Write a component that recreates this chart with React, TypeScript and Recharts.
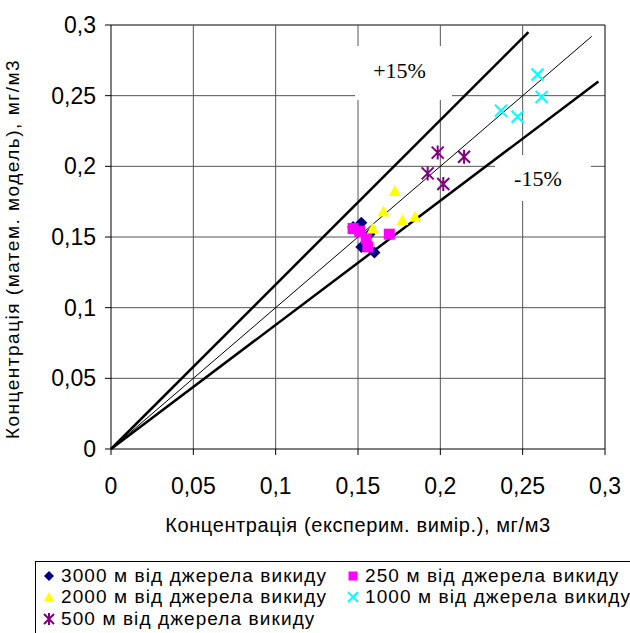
import React from "react";
import {
  ComposedChart,
  ReferenceArea,
  ReferenceLine,
  Scatter,
  XAxis,
  YAxis,
} from "recharts";

const TICKS = [0, 0.05, 0.1, 0.15, 0.2, 0.25, 0.3];

// reference lines: y = x, +15 %, -15 %
const LINE_EQUAL = [
  { x: 0, y: 0 },
  { x: 0.292, y: 0.292 },
];
const LINE_PLUS = [
  { x: 0, y: 0 },
  { x: 0.2535, y: 0.295 },
];
const LINE_MINUS = [
  { x: 0, y: 0 },
  { x: 0.296, y: 0.26 },
];

const S3000 = [
  { x: 0.152, y: 0.16 },
  { x: 0.147, y: 0.157 },
  { x: 0.157, y: 0.152 },
  { x: 0.152, y: 0.143 },
  { x: 0.16, y: 0.139 },
];
const S250 = [
  { x: 0.147, y: 0.156 },
  { x: 0.151, y: 0.154 },
  { x: 0.155, y: 0.149 },
  { x: 0.156, y: 0.143 },
  { x: 0.169, y: 0.152 },
];
const S2000 = [
  { x: 0.1724, y: 0.1826 },
  { x: 0.1654, y: 0.168 },
  { x: 0.159, y: 0.156 },
  { x: 0.177, y: 0.162 },
  { x: 0.1846, y: 0.1644 },
];
const S1000 = [
  { x: 0.259, y: 0.265 },
  { x: 0.2615, y: 0.249 },
  { x: 0.2368, y: 0.2393 },
  { x: 0.2469, y: 0.2351 },
];
const S500 = [
  { x: 0.1984, y: 0.2097 },
  { x: 0.2144, y: 0.2068 },
  { x: 0.1923, y: 0.195 },
  { x: 0.2018, y: 0.1875 },
];

const LEGEND = [
  { label: "3000 м від джерела викиду", kind: "diamond" },
  { label: "250 м від джерела викиду", kind: "square" },
  { label: "2000 м від джерела викиду", kind: "triangle" },
  { label: "1000 м від джерела викиду", kind: "x" },
  { label: "500 м від джерела викиду", kind: "star" },
];

// text boxes (white background hides the grid behind them)
const BOXES = [
  { text: "+15%", x1: 0.1482, x2: 0.2071, y1: 0.2469, y2: 0.2851, dx: -4, dy: -3 },
  { text: "-15%", x1: 0.2332, x2: 0.2914, y1: 0.1755, y2: 0.208, dx: -5, dy: 0 },
];

const COLORS: Record<string, string> = {
  diamond: "#000080",
  square: "#FF00FF",
  triangle: "#FFFF00",
  x: "#00FFFF",
  star: "#800080",
};

function marker(kind: string, cx: number, cy: number, r = 6) {
  const c = COLORS[kind];
  if (kind === "diamond")
    return <path d={`M${cx},${cy - r}L${cx + r},${cy}L${cx},${cy + r}L${cx - r},${cy}Z`} fill={c} />;
  if (kind === "square")
    return <rect x={cx - r + 0.5} y={cy - r + 0.5} width={2 * r - 1} height={2 * r - 1} fill={c} />;
  if (kind === "triangle")
    return <path d={`M${cx},${cy - r}L${cx + r},${cy + r - 1}L${cx - r},${cy + r - 1}Z`} fill={c} />;
  if (kind === "x")
    return (
      <path
        d={`M${cx - r},${cy - r}L${cx + r},${cy + r}M${cx - r},${cy + r}L${cx + r},${cy - r}`}
        stroke={c}
        strokeWidth={2}
      />
    );
  return (
    <path
      d={`M${cx - r},${cy - r}L${cx + r},${cy + r}M${cx - r},${cy + r}L${cx + r},${cy - r}M${cx},${cy - r - 1}L${cx},${cy + r + 1}`}
      stroke={c}
      strokeWidth={2}
    />
  );
}

// split a grid line into pieces that skip the text boxes
function pieces(vertical: boolean, t: number): [number, number][] {
  let segs: [number, number][] = [[0, 0.3]];
  BOXES.forEach((b) => {
    const [lo, hi, a, z] = vertical ? [b.x1, b.x2, b.y1, b.y2] : [b.y1, b.y2, b.x1, b.x2];
    if (t <= lo || t >= hi) return;
    const next: [number, number][] = [];
    segs.forEach(([s, e]) => {
      if (a > s) next.push([s, Math.min(a, e)]);
      if (z < e) next.push([Math.max(z, s), e]);
    });
    segs = next;
  });
  return segs;
}

const shapeOf = (kind: string) => (p: any) => <g>{marker(kind, p.cx, p.cy)}</g>;
const noDot = () => <g />;
const fmt = (v: number) => String(v).replace(".", ",");

const FONT = "'Liberation Sans', Arial, sans-serif";
const SERIF = "'Liberation Serif', 'Times New Roman', serif";

export default function App() {
  return (
    <div style={{ position: "absolute", left: 0, top: 0, width: 630, height: 633, overflow: "hidden", background: "#fff" }}>
      <ComposedChart width={630} height={560} margin={{ top: 25, right: 25, left: 0, bottom: 28 }}>
        <XAxis
          type="number"
          dataKey="x"
          domain={[0, 0.3]}
          ticks={TICKS}
          tickFormatter={fmt}
          height={83}
          stroke="#000"
          tickSize={6}
          tick={{ fill: "#000", fontSize: 23, fontFamily: FONT, dy: 21 }}
          label={{
            value: "Концентрація (експерим. вимір.), мг/м3",
            position: "insideBottom",
            offset: 0,
            style: { fill: "#000", fontSize: 20, fontFamily: FONT, letterSpacing: 0.6 },
          }}
        />
        <YAxis
          type="number"
          dataKey="y"
          domain={[0, 0.3]}
          ticks={TICKS}
          tickFormatter={fmt}
          width={111}
          stroke="#000"
          tickSize={6}
          tick={{ fill: "#000", fontSize: 23, fontFamily: FONT, dx: -7 }}
          label={{
            value: "Концентрація (матем. модель), мг/м3",
            angle: -90,
            position: "insideLeft",
            offset: 12,
            dy: 12,
            style: { fill: "#000", fontSize: 19, fontFamily: FONT, textAnchor: "middle", letterSpacing: 1.5 },
          }}
        />
        {/* grid */}
        {TICKS.slice(1).map((t) =>
          pieces(false, t).map(([a, b]) => (
            <ReferenceLine
              key={`h${t}-${a}`}
              segment={[{ x: a, y: t }, { x: b, y: t }]}
              stroke={t === 0.3 ? "#000" : "#555"}
            />
          ))
        )}
        {TICKS.slice(1).map((t) =>
          pieces(true, t).map(([a, b]) => (
            <ReferenceLine
              key={`v${t}-${a}`}
              segment={[{ x: t, y: a }, { x: t, y: b }]}
              stroke={t === 0.3 ? "#000" : "#555"}
            />
          ))
        )}
        {BOXES.map((b) => (
          <ReferenceArea
            key={b.text}
            x1={b.x1}
            x2={b.x2}
            y1={b.y1}
            y2={b.y2}
            fill="#fff"
            fillOpacity={0}
            stroke="none"
            label={{ value: b.text, position: "center", dx: b.dx, dy: b.dy, style: { fill: "#000", fontSize: 22, fontFamily: SERIF } }}
          />
        ))}
        <Scatter data={LINE_EQUAL} line={{ stroke: "#000", strokeWidth: 1 }} shape={noDot} isAnimationActive={false} />
        <Scatter data={LINE_PLUS} line={{ stroke: "#000", strokeWidth: 2.5 }} shape={noDot} isAnimationActive={false} />
        <Scatter data={LINE_MINUS} line={{ stroke: "#000", strokeWidth: 2.5 }} shape={noDot} isAnimationActive={false} />
        <Scatter data={S3000} shape={shapeOf("diamond")} isAnimationActive={false} />
        <Scatter data={S250} shape={shapeOf("square")} isAnimationActive={false} />
        <Scatter data={S2000} shape={shapeOf("triangle")} isAnimationActive={false} />
        <Scatter data={S1000} shape={shapeOf("x")} isAnimationActive={false} />
        <Scatter data={S500} shape={shapeOf("star")} isAnimationActive={false} />
      </ComposedChart>
      <div
        style={{
          position: "absolute",
          left: 35,
          top: 561,
          width: 610,
          height: 90,
          border: "1px solid #000",
          boxSizing: "border-box",
          fontFamily: FONT,
          fontSize: 19,
          color: "#000",
          display: "grid",
          gridTemplateColumns: "304px 300px",
          gridAutoRows: "21.5px",
          paddingTop: 3,
          paddingLeft: 5,
        }}
      >
        {LEGEND.map((item) => (
          <div key={item.label} style={{ display: "flex", alignItems: "center", whiteSpace: "nowrap" }}>
            <svg width={20} height={16} style={{ flex: "none" }}>
              {marker(item.kind, 8, 8, 5)}
            </svg>
            <span style={{ letterSpacing: 1.1 }}>{item.label}</span>
          </div>
        ))}
      </div>
    </div>
  );
}
